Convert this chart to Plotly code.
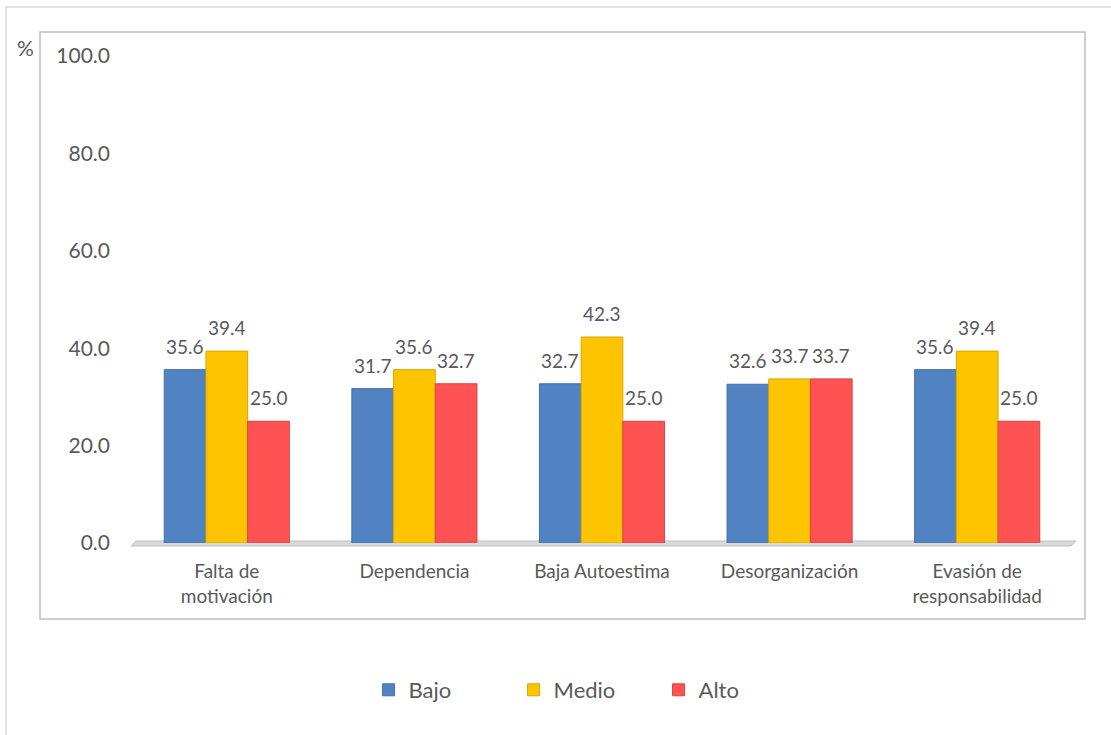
import plotly.graph_objects as go

categories = ["Falta de<br>motivación", "Dependencia", "Baja Autoestima", "Desorganización", "Evasión de<br>responsabilidad"]
bajo = [35.6, 31.7, 32.7, 32.6, 35.6]
medio = [39.4, 35.6, 42.3, 33.7, 39.4]
alto = [25.0, 32.7, 25.0, 33.7, 25.0]
series_names = ["Bajo", "Medio", "Alto"]
series_values = [bajo, medio, alto]
colors = ["#5183C3", "#FFC400", "#FF5353"]
edge_colors = ["#4670A8", "#D9A600", "#D94444"]
y_ticks = [0, 20, 40, 60, 80, 100]

W, H = 1111, 735
ML, MR, MT, MB = 133, 40, 56, 192
BARGAP = 0.333
FONT = "Lato"
TXT = "#595959"

fig = go.Figure()
for name, vals, c, ec in zip(series_names, series_values, colors, edge_colors):
    fig.add_trace(go.Bar(
        name=name, x=categories, y=vals,
        marker=dict(color=c, line=dict(color=ec, width=1)),
    ))

# data labels as annotations above bars
plot_w = W - ML - MR
cat_px = plot_w / len(categories)
bar_px = cat_px * (1 - BARGAP) / 3
for i, vals in enumerate(series_values):
    for cat, v in zip(categories, vals):
        fig.add_annotation(
            x=cat, y=v, text=f"{v:.1f}", showarrow=False,
            xref="x", yref="y", yanchor="bottom", xanchor="center",
            xshift=(i - 1) * bar_px, yshift=10,
            font=dict(family=FONT, size=19, color=TXT),
        )

def px_x(p):
    return (p - ML) / plot_w

plot_h = H - MT - MB
def px_y(p):
    return (H - MB - p) / plot_h

# inner chart box
fig.add_shape(type="rect", xref="paper", yref="paper",
              x0=px_x(40), x1=px_x(1085), y0=px_y(619), y1=px_y(32),
              line=dict(color="#BFBFBF", width=1.5), layer="below")
# outer border
fig.add_shape(type="rect", xref="paper", yref="paper",
              x0=px_x(6), x1=px_x(1140), y0=px_y(760), y1=px_y(7),
              line=dict(color="#D9D9D9", width=1.5), layer="below")
# floor
fig.add_shape(type="path", xref="paper", yref="paper",
              path=f"M{px_x(131)},{px_y(546)} L{px_x(1071)},{px_y(546)} L{px_x(1076)},{px_y(541)} L{px_x(136)},{px_y(541)} Z",
              fillcolor="#D9D9D9", line=dict(color="#BFBFBF", width=1), layer="below")

fig.add_annotation(text="%", xref="paper", yref="paper", x=px_x(25), y=px_y(48),
                   xanchor="center", yanchor="middle",
                   showarrow=False, font=dict(family=FONT, size=21, color=TXT))

fig.update_layout(
    width=W, height=H,
    margin=dict(l=ML, r=MR, t=MT, b=MB),
    paper_bgcolor="white", plot_bgcolor="rgba(0,0,0,0)",
    barmode="group", bargap=BARGAP, bargroupgap=0,
    font=dict(family=FONT, color=TXT),
    showlegend=True,
    legend=dict(orientation="h", x=0.483, xanchor="center", y=px_y(690), yanchor="middle",
                font=dict(family=FONT, size=22, color=TXT),
                itemwidth=30,
                entrywidth=100, entrywidthmode="pixels", itemclick=False),
    xaxis=dict(showgrid=False, showline=False, ticks="", zeroline=False,
               tickfont=dict(family=FONT, size=19, color=TXT), ticklabelstandoff=15),
    yaxis=dict(range=[0, 100], tickvals=y_ticks, ticktext=[f"{t:.1f}" for t in y_ticks],
               showgrid=False, showline=False, zeroline=False, ticks="",
               tickfont=dict(family=FONT, size=21, color=TXT), ticklabelstandoff=22),
)

fig.write_html("out.html", config={"displayModeBar": False},
               post_script="document.body.style.margin='0';")
